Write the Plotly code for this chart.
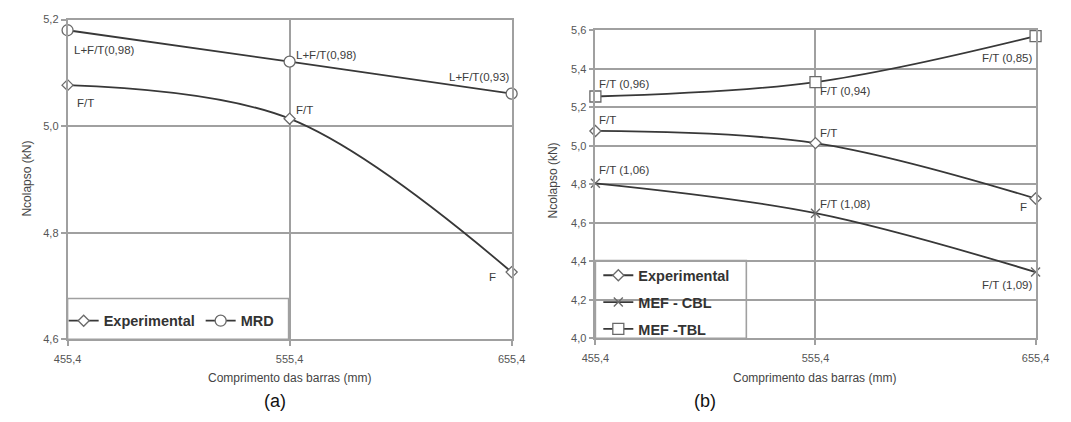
import plotly.graph_objects as go

# Bar lengths (mm) shared by both panels
lengths = [455.4, 555.4, 655.4]

# Collapse loads (kN)
experimental = [5.077, 5.014, 4.726]
mrd = [5.180, 5.121, 5.061]
mef_cbl = [4.805, 4.650, 4.344]
mef_tbl = [5.256, 5.331, 5.570]

# Failure-mode labels for each point
experimental_modes = ["F/T", "F/T", "F"]
mrd_modes = ["L+F/T(0,98)", "L+F/T(0,98)", "L+F/T(0,93)"]
cbl_modes = ["F/T (1,06)", "F/T (1,08)", "F/T (1,09)"]
tbl_modes = ["F/T (0,96)", "F/T (0,94)", "F/T (0,85)"]

y_ticks_a = [4.6, 4.8, 5.0, 5.2]
y_ticks_b = [4.0, 4.2, 4.4, 4.6, 4.8, 5.0, 5.2, 5.4, 5.6]

W, H = 1071, 422
FONT = "Liberation Sans, Arial, sans-serif"
GRID = "#a0a0a0"
LINE = "#383838"
MARK = "#6a6a6a"
TEXT = "#3c3c3c"


def fx(p):
    return p / W


def fy(p):
    return 1 - p / H


def series(name, y, xa, ya, legend, symbol, size):
    marker = dict(symbol=symbol, size=size, color="white",
                  line=dict(color=MARK, width=1.3))
    if symbol == "x-thin":
        marker = dict(symbol=symbol, size=size, color=MARK,
                      line=dict(color=MARK, width=1.4))
    return go.Scatter(
        x=lengths, y=y, xaxis=xa, yaxis=ya, name=name, legend=legend,
        legendgroup=legend + name,
        mode="lines+markers", cliponaxis=False,
        line=dict(color=LINE, width=1.8, shape="spline", smoothing=1),
        marker=marker,
    )


fig = go.Figure()
fig.add_trace(series("Experimental", experimental, "x", "y", "legend", "diamond", 8.5))
fig.add_trace(series("MRD", mrd, "x", "y", "legend", "circle", 11))
fig.add_trace(series("Experimental", experimental, "x2", "y2", "legend2", "diamond", 8.5))
fig.add_trace(series("MEF - CBL", mef_cbl, "x2", "y2", "legend2", "x-thin", 9))
fig.add_trace(series("MEF -TBL", mef_tbl, "x2", "y2", "legend2", "square", 11))

annotations = []


def point_labels(values, labels, xr, yr, offsets):
    for xv, yv, txt, (anchor, dx, dy) in zip(lengths, values, labels, offsets):
        annotations.append(dict(
            x=xv, y=yv, xref=xr, yref=yr, text=txt, showarrow=False,
            xanchor=anchor, yanchor="middle", xshift=dx, yshift=dy,
            font=dict(family=FONT, size=11.5, color=TEXT),
        ))


# Panel (a)
point_labels(mrd, mrd_modes, "x", "y",
             [("left", 4, -20), ("left", 4, 7), ("right", 0, 17)])
point_labels(experimental, experimental_modes, "x", "y",
             [("left", 7, -18), ("left", 4, 9), ("right", -14, -5)])
# Panel (b)
point_labels(mef_tbl, tbl_modes, "x2", "y2",
             [("left", 2, 13), ("left", 3, -9), ("right", -2, -22)])
point_labels(experimental, experimental_modes, "x2", "y2",
             [("left", 2, 11), ("left", 3, 10), ("right", -7, -8)])
point_labels(mef_cbl, cbl_modes, "x2", "y2",
             [("left", 2, 13), ("left", 3, 9), ("right", -2, -13)])

# Axis titles and panel captions
for cx in (283, 822):
    annotations.append(dict(
        x=fx(cx), y=fy(383), xref="paper", yref="paper", showarrow=False,
        text="Comprimento das barras (mm)", xanchor="center", yanchor="middle",
        font=dict(family=FONT, size=12, color="#444444")))
for cx, cy in ((13, 178), (553, 180)):
    annotations.append(dict(
        x=fx(cx), y=fy(cy), xref="paper", yref="paper", showarrow=False,
        text="Ncolapso (kN)", textangle=-90, xanchor="center", yanchor="middle",
        font=dict(family=FONT, size=12, color="#444444")))
for cx, txt in ((268, "(a)"), (710, "(b)")):
    annotations.append(dict(
        x=fx(cx), y=fy(407), xref="paper", yref="paper", showarrow=False,
        text=txt, xanchor="center", yanchor="middle",
        font=dict(family=FONT, size=18, color="#111111")))

# Legend frames
shapes = [
    dict(type="rect", xref="paper", yref="paper", layer="between",
         x0=fx(55), x1=fx(282), y0=fy(343), y1=fy(301),
         line=dict(color=GRID, width=1.6), fillcolor="white"),
    dict(type="rect", xref="paper", yref="paper", layer="between",
         x0=fx(597), x1=fx(752), y0=fy(342), y1=fy(262),
         line=dict(color=GRID, width=1.6), fillcolor="white"),
]

xaxis_style = dict(
    range=[455.4, 655.4], tickvals=lengths, tickformat=".1f",
    showgrid=True, gridcolor=GRID, gridwidth=1.6,
    showline=True, linecolor=GRID, linewidth=1.6, mirror=True,
    ticks="outside", ticklen=5, tickcolor=GRID, tickwidth=1.6,
    zeroline=False, ticklabelstandoff=4,
    tickfont=dict(family=FONT, size=11, color="#555555"),
)
yaxis_style = dict(
    tickformat=".1f",
    showgrid=True, gridcolor=GRID, gridwidth=1.6,
    showline=True, linecolor=GRID, linewidth=1.6, mirror=True,
    ticks="outside", ticklen=5, tickcolor=GRID, tickwidth=1.6,
    zeroline=False,
    tickfont=dict(family=FONT, size=11, color="#555555"),
)

legend_font = dict(family=FONT, size=14.5, color="#333333", weight="bold")

fig.update_layout(
    width=W, height=H, margin=dict(l=0, r=0, t=0, b=0),
    paper_bgcolor="white", plot_bgcolor="white",
    separators=",.",
    font=dict(family=FONT),
    xaxis=dict(domain=[fx(55), fx(511)], anchor="y", **xaxis_style),
    yaxis=dict(domain=[fy(343), fy(14)], anchor="x", range=[4.6, 5.2],
               tickvals=y_ticks_a, **yaxis_style),
    xaxis2=dict(domain=[fx(597), fx(1049)], anchor="y2", **xaxis_style),
    yaxis2=dict(domain=[fy(342), fy(25)], anchor="x2", range=[4.0, 5.6],
                tickvals=y_ticks_b, **yaxis_style),
    legend=dict(orientation="h", x=fx(51), y=fy(324), xanchor="left",
                yanchor="middle", bgcolor="rgba(0,0,0,0)", font=legend_font,
                itemwidth=30, entrywidth=92, traceorder="normal"),
    legend2=dict(orientation="v", x=fx(600), y=fy(305), xanchor="left",
                 yanchor="middle", bgcolor="rgba(0,0,0,0)", font=legend_font,
                 itemwidth=30, traceorder="grouped", tracegroupgap=5),
    annotations=annotations,
    shapes=shapes,
    showlegend=True,
)

fig.write_html("out.html")
